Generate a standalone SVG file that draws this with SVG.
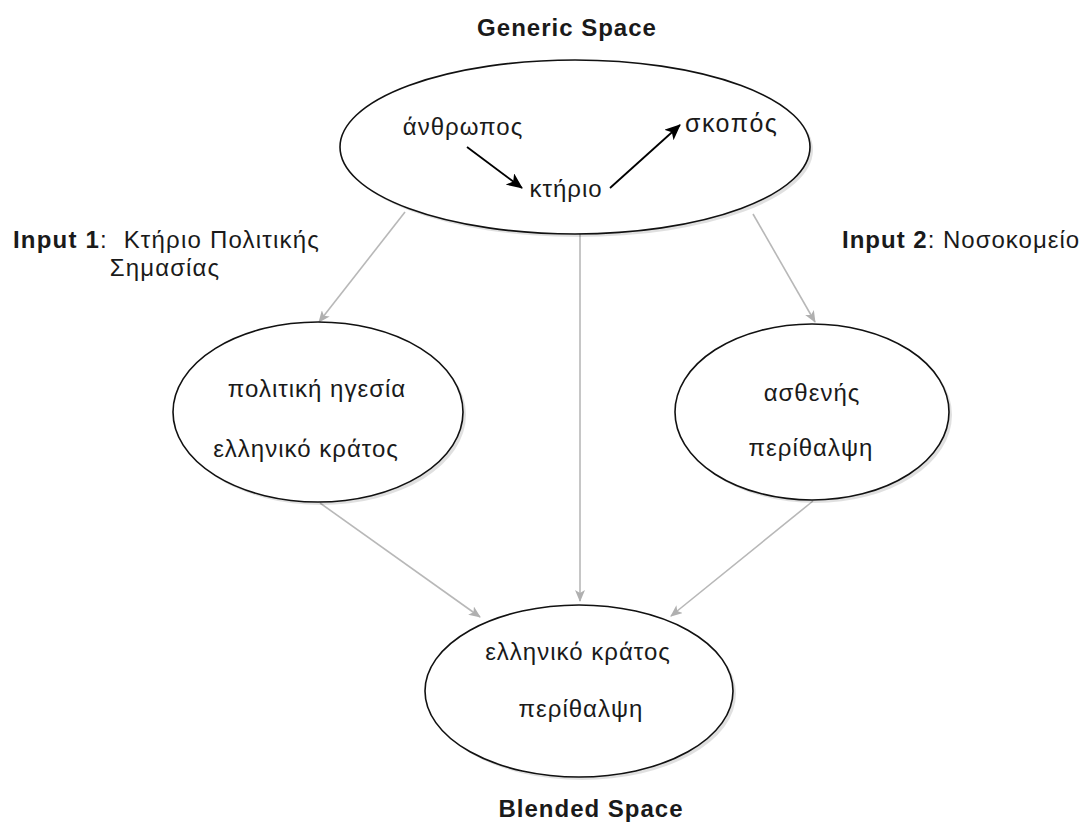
<svg xmlns="http://www.w3.org/2000/svg" width="1084" height="826" viewBox="0 0 1084 826">
<style>
text{font-family:"Liberation Sans",Arial,sans-serif;font-size:24px;fill:#1a1a1a;letter-spacing:1px}
.b{font-weight:bold}
.node{fill:#fff;stroke:#111;stroke-width:1.6}
.shadow{fill:#000;opacity:0.12}
.gray{stroke:#b8b8b8;stroke-width:1.6;fill:none;marker-end:url(#ga)}
.blk{stroke:#000;stroke-width:1.8;fill:none;marker-end:url(#ba)}
</style>
<defs>
<marker id="ga" viewBox="0 0 12 10" refX="11" refY="5" markerWidth="12" markerHeight="10" markerUnits="userSpaceOnUse" orient="auto">
<path d="M0,0 L12,5 L0,10 L3,5 Z" fill="#b0b0b0"/>
</marker>
<marker id="ba" viewBox="0 0 16 14" refX="15" refY="7" markerWidth="16" markerHeight="14" markerUnits="userSpaceOnUse" orient="auto">
<path d="M0,0 L16,7 L0,14 L4,7 Z" fill="#000"/>
</marker>
</defs>
<rect width="1084" height="826" fill="#fff"/>
<g id="connectors">
<line class="gray" x1="405" y1="212" x2="319" y2="322"/>
<line class="gray" x1="580" y1="234" x2="580" y2="601"/>
<line class="gray" x1="753" y1="214" x2="815" y2="322"/>
<line class="gray" x1="320" y1="503" x2="480" y2="617"/>
<line class="gray" x1="813" y1="501" x2="671" y2="616"/>
</g>
<g id="generic">
<ellipse class="shadow" cx="578" cy="150" rx="235" ry="87"/>
<ellipse class="node" cx="575" cy="147" rx="235" ry="87"/>
<text x="463" y="135" text-anchor="middle">άνθρωπος</text>
<text x="566" y="197" text-anchor="middle">κτήριο</text>
<text x="685" y="132" style="font-size:25px;letter-spacing:1.5px">σκοπός</text>
<line class="blk" x1="467" y1="147" x2="522" y2="188"/>
<line class="blk" x1="610" y1="188" x2="680" y2="125"/>
</g>
<g id="input1">
<ellipse class="shadow" cx="321" cy="415" rx="145" ry="90"/>
<ellipse class="node" cx="318" cy="412" rx="145" ry="90"/>
<text x="317" y="397" text-anchor="middle">πολιτική ηγεσία</text>
<text x="306" y="457" text-anchor="middle">ελληνικό κράτος</text>
</g>
<g id="input2">
<ellipse class="shadow" cx="815" cy="415" rx="137" ry="88"/>
<ellipse class="node" cx="812" cy="412" rx="137" ry="88"/>
<text x="812" y="401" text-anchor="middle">ασθενής</text>
<text x="811" y="456" text-anchor="middle">περίθαλψη</text>
</g>
<g id="blended">
<ellipse class="shadow" cx="582" cy="694" rx="154" ry="86"/>
<ellipse class="node" cx="579" cy="691" rx="154" ry="86"/>
<text x="578" y="660" text-anchor="middle">ελληνικό κράτος</text>
<text x="581" y="717" text-anchor="middle">περίθαλψη</text>
</g>
<g id="labels">
<text class="b" x="567" y="36" text-anchor="middle">Generic Space</text>
<text class="b" x="591" y="817" text-anchor="middle">Blended Space</text>
<text x="13" y="248" style="letter-spacing:1.2px"><tspan class="b">Input 1</tspan>:&#160; Κτήριο Πολιτικής</text>
<text x="165" y="276" text-anchor="middle" style="letter-spacing:1.1px">Σημασίας</text>
<text x="842" y="248"><tspan class="b">Input 2</tspan>: Νοσοκομείο</text>
</g>
</svg>
